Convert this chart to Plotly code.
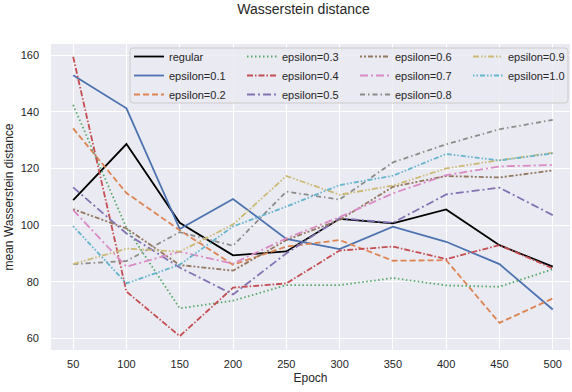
import plotly.graph_objects as go

epochs = [50, 100, 150, 200, 250, 300, 350, 400, 450, 500]
regular = [108.8, 128.6, 100.8, 89.3, 90.7, 102.2, 100.6, 105.5, 92.9, 85.3]
eps01 = [152.9, 141.2, 98.6, 109.2, 95.1, 91.5, 99.4, 94.1, 86.2, 70.2]
eps02 = [134.1, 111.3, 98.2, 86.0, 92.4, 94.7, 87.4, 87.6, 65.5, 74.1]
eps03 = [142.4, 99.0, 70.6, 73.3, 78.8, 78.8, 81.3, 78.7, 78.2, 84.4]
eps04 = [159.4, 76.5, 60.8, 77.9, 79.4, 91.0, 92.4, 88.0, 92.9, 84.7]
eps05 = [113.3, 97.0, 85.0, 75.5, 90.0, 102.4, 100.8, 110.8, 113.2, 103.5]
eps06 = [105.6, 98.8, 85.9, 83.9, 94.7, 101.8, 113.5, 117.3, 116.8, 119.3]
eps07 = [105.3, 85.3, 90.6, 86.4, 95.3, 102.8, 111.2, 117.6, 120.7, 121.2]
eps08 = [86.2, 87.3, 97.5, 92.7, 111.8, 109.0, 122.1, 128.5, 133.8, 137.1]
eps09 = [86.2, 91.7, 90.6, 100.2, 117.3, 110.7, 113.9, 120.0, 122.9, 125.5]
eps10 = [99.6, 79.4, 86.0, 99.5, 106.5, 114.1, 117.4, 125.1, 122.8, 125.3]

names = ["regular", "epsilon=0.1", "epsilon=0.2", "epsilon=0.3", "epsilon=0.4",
         "epsilon=0.5", "epsilon=0.6", "epsilon=0.7", "epsilon=0.8", "epsilon=0.9",
         "epsilon=1.0"]
series = [regular, eps01, eps02, eps03, eps04, eps05, eps06, eps07, eps08, eps09, eps10]
colors = ["#000000", "#4c72b0", "#dd8452", "#55a868", "#c44e52", "#8172b3",
          "#937860", "#da8bc3", "#8c8c8c", "#ccb974", "#64b5cd"]
dashes = ["solid", "solid", "6px,3px", "1.5px,2.5px", "6px,2px,1.5px,2px",
          "8px,3px,2px,3px", "2px,2px,2px,2px,5px,2px", "8px,3px,2px,3px",
          "5px,3px,1.5px,3px", "6px,2px,1.5px,2px,1.5px,2px",
          "1.5px,2px,1.5px,2px,5px,2px"]
# column-major legend layout with 4 columns
legend_ranks = [1, 5, 9, 2, 6, 10, 3, 7, 11, 4, 8]

fig = go.Figure()
for name, ys, c, d, r in zip(names, series, colors, dashes, legend_ranks):
    fig.add_trace(go.Scatter(
        x=epochs, y=ys, mode="lines", name=name,
        line=dict(color=c, width=1.8, dash=d),
        legendrank=r,
    ))

# legend frame (rounded rectangle, paper coordinates)
x0, x1, y0, y1 = 0.1522, 0.9961, 0.8072, 0.9869
rx, ry = 0.006, 0.010
frame = (f"M {x0+rx},{y0} L {x1-rx},{y0} Q {x1},{y0} {x1},{y0+ry} "
         f"L {x1},{y1-ry} Q {x1},{y1} {x1-rx},{y1} L {x0+rx},{y1} "
         f"Q {x0},{y1} {x0},{y1-ry} L {x0},{y0+ry} Q {x0},{y0} {x0+rx},{y0} Z")
fig.add_shape(type="path", path=frame, xref="paper", yref="paper",
              fillcolor="rgba(234,234,242,0.8)",
              line=dict(color="#cccccc", width=1), layer="above")

fig.update_layout(
    width=572, height=392,
    margin=dict(l=51, r=2, t=44, b=42, autoexpand=False),
    paper_bgcolor="white",
    plot_bgcolor="#eaeaf2",
    font=dict(family="Liberation Sans, Arial, sans-serif", size=11, color="#262626"),
    title=dict(text="Wasserstein distance", x=0.5306, xanchor="center",
               y=0.978, yanchor="middle",
               font=dict(size=14, color="#262626")),
    showlegend=True,
    legend=dict(
        orientation="h",
        x=1.0212, y=1.0065, xanchor="right", yanchor="top",
        bgcolor="rgba(0,0,0,0)",
        borderwidth=0,
        entrywidth=68, entrywidthmode="pixels",
        font=dict(size=11, color="#262626"),
        tracegroupgap=0,
        itemwidth=30,
    ),
)
fig.update_xaxes(
    range=[29.2, 516.2],
    tickvals=epochs,
    ticktext=[str(e) for e in epochs],
    showgrid=True, gridcolor="white", gridwidth=1,
    zeroline=False, showline=False,
    ticks="", ticklabelstandoff=6,
    title=dict(text="Epoch", standoff=4, font=dict(size=12)),
)
fig.update_yaxes(
    range=[55.9, 163.9],
    tickvals=[60, 80, 100, 120, 140, 160],
    showgrid=True, gridcolor="white", gridwidth=1,
    zeroline=False, showline=False,
    ticks="", ticklabelstandoff=11,
    title=dict(text="mean Wasserstein distance", standoff=4, font=dict(size=12)),
)

fig.write_html("out.html")
